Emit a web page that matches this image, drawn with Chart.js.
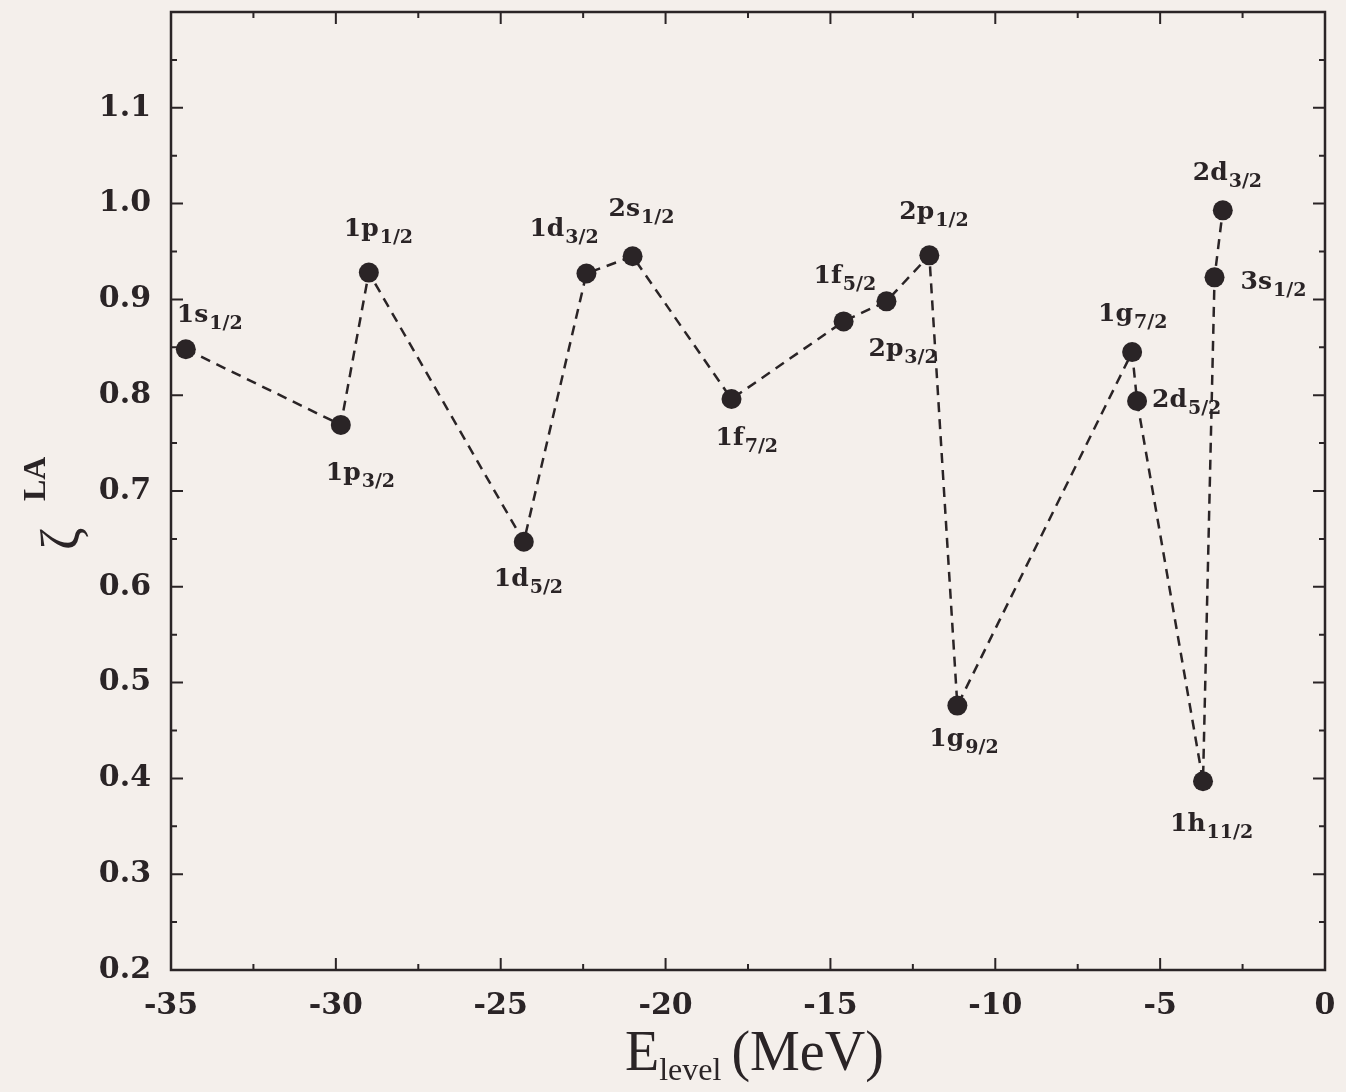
<!DOCTYPE html>
<html>
<head>
<meta charset="utf-8">
<title>zeta LA vs E level</title>
<script src="https://cdn.jsdelivr.net/npm/chart.js@4/dist/chart.umd.min.js"></script>
<style>
	html, body { margin: 0; padding: 0; background: #f4efeb; overflow: hidden; }
	#wrap { width: 1346px; height: 1092px; position: relative; }
</style>
</head>
<body>
<div id="wrap"><canvas id="chart"></canvas></div>
<script>
// single particle levels
var orbitals = ['1s', '1p', '1p', '1d', '1d', '2s', '1f', '1f', '2p', '2p', '1g', '1g', '2d', '1h', '3s', '2d']
var spins = ['1/2', '3/2', '1/2', '5/2', '3/2', '1/2', '7/2', '5/2', '3/2', '1/2', '9/2', '7/2', '5/2', '11/2', '1/2', '3/2']
var energies = [-34.55, -29.85, -29.0, -24.3, -22.4, -21.0, -18.0, -14.6, -13.3, -12.0, -11.15, -5.85, -5.7, -3.7, -3.35, -3.1]
var zeta = [0.848, 0.769, 0.928, 0.647, 0.927, 0.945, 0.796, 0.877, 0.898, 0.946, 0.476, 0.845, 0.794, 0.397, 0.923, 0.993]

// axis ticks
var xTicks = [-35, -30, -25, -20, -15, -10, -5, 0]
var yTicks = [0.2, 0.3, 0.4, 0.5, 0.6, 0.7, 0.8, 0.9, 1.0, 1.1]

// label placement, px from the point: left edge and baseline
var labelOffsets = [
	[-9, -27], [-15, 55], [-25, -37], [-30, 44], [-57, -38], [-24, -40], [-16, 46], [-30, -38],
	[-18, 55], [-30, -36], [-28, 40], [-34, -31], [15, 6], [-33, 50], [26, 12], [-30, -30]
]

var ink = '#2a2426'

var points = energies.map((e, i) => ({ x: e, y: zeta[i] }))

// frame, inward ticks, titles and level labels
var decor = {
	id: 'decor',
	afterDraw: function (chart) {
		var ctx = chart.ctx
		var area = chart.chartArea
		var xs = chart.scales.x
		var ys = chart.scales.y
		ctx.save()
		ctx.strokeStyle = ink
		ctx.fillStyle = ink
		ctx.lineWidth = 2.5
		ctx.strokeRect(area.left, area.top, area.right - area.left, area.bottom - area.top)

		// ticks on all four sides
		ctx.lineWidth = 2
		ctx.beginPath()
		for (var k = 0; k <= 14; k++) {
			var v = -35 + k * 2.5
			var len = k % 2 === 0 ? 12 : 6
			var px = xs.getPixelForValue(v)
			ctx.moveTo(px, area.bottom); ctx.lineTo(px, area.bottom - len)
			ctx.moveTo(px, area.top); ctx.lineTo(px, area.top + len)
		}
		for (var j = 0; j <= 20; j++) {
			var w = 0.2 + j * 0.05
			var l2 = j % 2 === 0 ? 12 : 6
			var py = ys.getPixelForValue(w)
			ctx.moveTo(area.left, py); ctx.lineTo(area.left + l2, py)
			ctx.moveTo(area.right, py); ctx.lineTo(area.right - l2, py)
		}
		ctx.stroke()

		// level labels
		ctx.textBaseline = 'alphabetic'
		ctx.textAlign = 'left'
		points.forEach((p, i) => {
			var x0 = xs.getPixelForValue(p.x) + labelOffsets[i][0]
			var y0 = ys.getPixelForValue(p.y) + labelOffsets[i][1]
			ctx.font = 'bold 25px "DejaVu Serif"'
			ctx.fillText(orbitals[i], x0, y0)
			var w0 = ctx.measureText(orbitals[i]).width
			ctx.font = 'bold 19px "DejaVu Serif"'
			ctx.fillText(spins[i], x0 + w0 + 1, y0 + 7)
		})

		// x title
		var tx = 625
		var ty = 1070
		ctx.font = '56px "Liberation Serif"'
		ctx.fillText('E', tx, ty)
		tx += ctx.measureText('E').width
		ctx.font = '32px "Liberation Serif"'
		ctx.fillText('level', tx, ty + 10)
		tx += ctx.measureText('level').width + 10
		ctx.font = '56px "Liberation Serif"'
		ctx.fillText('(MeV)', tx, ty)

		// y title, rotated
		ctx.translate(79, 550)
		ctx.rotate(-Math.PI / 2)
		ctx.font = '54px "Liberation Serif"'
		ctx.fillText('ζ', 0, 0)
		ctx.font = 'bold 32px "Liberation Serif"'
		ctx.fillText('LA', 49, -34)
		ctx.restore()
	}
}

var chart = new Chart(document.getElementById('chart').getContext('2d'), {
	type: 'scatter',
	data: {
		datasets: [{
			data: points,
			showLine: true,
			borderColor: ink,
			borderWidth: 2.5,
			borderDash: [10, 7],
			pointRadius: 10,
			pointHoverRadius: 10,
			pointBackgroundColor: ink,
			pointBorderWidth: 0
		}]
	},
	options: {
		responsive: true,
		maintainAspectRatio: false,
		animation: false,
		layout: {
			padding: { left: 0, right: 21, top: 12, bottom: 0 }
		},
		plugins: {
			legend: { display: false },
			tooltip: { enabled: false }
		},
		scales: {
			x: {
				type: 'linear',
				min: -35,
				max: 0,
				afterFit: s => { s.height = 122; s.paddingLeft = 0; s.paddingRight = 0 },
				afterBuildTicks: s => { s.ticks = xTicks.map(v => ({ value: v })) },
				grid: { display: false, drawTicks: false },
				border: { display: false },
				ticks: {
					padding: 18,
					color: ink,
					font: { family: 'DejaVu Serif', size: 30, weight: 'bold' },
					callback: v => String(v)
				}
			},
			y: {
				type: 'linear',
				min: 0.2,
				max: 1.2,
				afterFit: s => { s.width = 171; s.paddingTop = 0; s.paddingBottom = 0 },
				afterBuildTicks: s => { s.ticks = yTicks.map(v => ({ value: v })) },
				grid: { display: false, drawTicks: false },
				border: { display: false },
				ticks: {
					padding: 20,
					color: ink,
					font: { family: 'DejaVu Serif', size: 30, weight: 'bold' },
					callback: v => v.toFixed(1)
				}
			}
		}
	},
	plugins: [decor]
})
</script>
</body>
</html>
